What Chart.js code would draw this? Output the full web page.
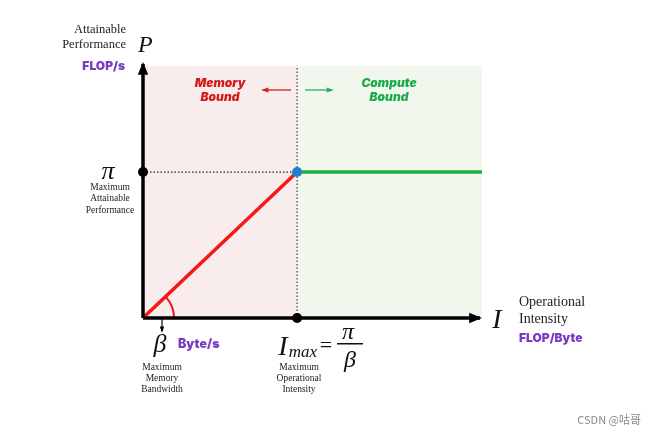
<!DOCTYPE html>
<html lang="en">
<head>
    <meta charset="UTF-8">
    <title>Roofline Model</title>
    <script src="https://cdn.jsdelivr.net/npm/chart.js"></script>
    <style>
        * { margin: 0; padding: 0; box-sizing: border-box; }
        body { background: #ffffff; width: 659px; height: 434px; overflow: hidden; }
    </style>
</head>
<body>
    <canvas id="roofline" width="659" height="434"></canvas>

    <script>
        // roofline data (arbitrary units)
        const memoryX = [0, 5];
        const memoryY = [0, 5.7];
        const computeX = [5, 11];
        const computeY = [5.7, 5.7];
        const ridge = [5, 5.7];
        const axisMax = [11, 10];
        const regionTop = 9.85;

        const toPts = (xs, ys) => xs.map((x, i) => ({ x: x, y: ys[i] }));

        const serif = '"Liberation Serif", "DejaVu Serif", serif';
        const bold = '"Inter", "Open Sans", sans-serif';
        const purple = '#7a3cc0';

        function text(ctx, s, x, y, font, color, align) {
            ctx.font = font;
            ctx.fillStyle = color;
            ctx.textAlign = align || 'center';
            ctx.textBaseline = 'middle';
            ctx.fillText(s, x, y);
        }

        function arrow(ctx, x1, y1, x2, y2, color, w, head) {
            ctx.strokeStyle = color;
            ctx.fillStyle = color;
            ctx.lineWidth = w;
            ctx.beginPath();
            ctx.moveTo(x1, y1);
            ctx.lineTo(x2, y2);
            ctx.stroke();
            const a = Math.atan2(y2 - y1, x2 - x1);
            ctx.beginPath();
            ctx.moveTo(x2 + Math.cos(a) * 2, y2 + Math.sin(a) * 2);
            ctx.lineTo(x2 - Math.cos(a - 0.45) * head, y2 - Math.sin(a - 0.45) * head);
            ctx.lineTo(x2 - Math.cos(a + 0.45) * head, y2 - Math.sin(a + 0.45) * head);
            ctx.closePath();
            ctx.fill();
        }

        // background regions behind the lines
        const regions = {
            id: 'regions',
            beforeDatasetsDraw(chart) {
                const ctx = chart.ctx, xs = chart.scales.x, ys = chart.scales.y;
                const x0 = xs.getPixelForValue(0), xr = xs.getPixelForValue(ridge[0]);
                const x1 = xs.getPixelForValue(axisMax[0]);
                const y0 = ys.getPixelForValue(0), yt = ys.getPixelForValue(regionTop);
                ctx.save();
                ctx.fillStyle = '#f9ecec';
                ctx.fillRect(x0, yt, xr - x0, y0 - yt);
                ctx.fillStyle = '#f2f7ee';
                ctx.fillRect(xr, yt, x1 - xr, y0 - yt);
                ctx.restore();
            }
        };

        // axes, arrows and labels
        const annotations = {
            id: 'annotations',
            afterDatasetsDraw(chart) {
                const ctx = chart.ctx, xs = chart.scales.x, ys = chart.scales.y;
                const x0 = xs.getPixelForValue(0), xr = xs.getPixelForValue(ridge[0]);
                const x1 = xs.getPixelForValue(axisMax[0]);
                const y0 = ys.getPixelForValue(0), yp = ys.getPixelForValue(ridge[1]);
                const y1 = ys.getPixelForValue(axisMax[1]);
                ctx.save();

                // angle arc at origin
                const ang = Math.atan2(y0 - yp, xr - x0);
                ctx.strokeStyle = '#ee1111';
                ctx.lineWidth = 2;
                ctx.beginPath();
                ctx.arc(x0, y0, 31, -ang, 0);
                ctx.stroke();

                // axes
                arrow(ctx, x0, y0, x0, y1 + 2, '#000', 3.5, 12);
                arrow(ctx, x0, y0, x1 - 2, y0, '#000', 3.5, 12);

                // axis dots
                [[x0, yp], [xr, y0]].forEach(p => {
                    ctx.fillStyle = '#000';
                    ctx.beginPath();
                    ctx.arc(p[0], p[1], 5, 0, Math.PI * 2);
                    ctx.fill();
                });

                // ridge point on top
                ctx.fillStyle = '#1e7fd0';
                ctx.beginPath();
                ctx.arc(xr, yp, 5, 0, Math.PI * 2);
                ctx.fill();

                // y axis label
                text(ctx, 'Attainable', 126, 30, '12.5px ' + serif, '#222', 'right');
                text(ctx, 'Performance', 126, 45, '12.5px ' + serif, '#222', 'right');
                text(ctx, 'P', 138, 46, 'italic 24px ' + serif, '#111', 'left');
                text(ctx, 'FLOP/s', 125, 66, '900 12px ' + bold, purple, 'right');

                // pi
                text(ctx, '\u03c0', 108, 172, 'italic 26px ' + serif, '#111');
                ['Maximum', 'Attainable', 'Performance'].forEach((s, i) =>
                    text(ctx, s, 110, 187 + i * 11.5, '9.5px ' + serif, '#222'));

                // region titles
                text(ctx, 'Memory', 220, 83, 'italic 900 12px ' + bold, '#d41a1a');
                text(ctx, 'Bound', 220, 97, 'italic 900 12px ' + bold, '#d41a1a');
                text(ctx, 'Compute', 389, 83, 'italic 900 12px ' + bold, '#1aab4a');
                text(ctx, 'Bound', 389, 97, 'italic 900 12px ' + bold, '#1aab4a');
                arrow(ctx, 291, 90, 263, 90, '#d42020', 1.3, 6);
                arrow(ctx, 305, 90, 332, 90, '#22b35a', 1.3, 6);

                // beta
                arrow(ctx, 162, y0, 162, 331, '#000', 1.2, 5);
                text(ctx, '\u03b2', 160, 345, 'italic 26px ' + serif, '#111');
                text(ctx, 'Byte/s', 178, 344, '900 12.5px ' + bold, purple, 'left');
                ['Maximum', 'Memory', 'Bandwidth'].forEach((s, i) =>
                    text(ctx, s, 162, 367 + i * 11, '9.5px ' + serif, '#222'));

                // I max = pi / beta
                text(ctx, 'I', 283, 348, 'italic 28px ' + serif, '#111');
                text(ctx, 'max', 303, 353, 'italic 17px ' + serif, '#111');
                text(ctx, '=', 326, 346, '22px ' + serif, '#111');
                text(ctx, '\u03c0', 348, 333, 'italic 24px ' + serif, '#111');
                ctx.fillStyle = '#111';
                ctx.fillRect(337, 343, 26, 1.5);
                text(ctx, '\u03b2', 350, 361, 'italic 24px ' + serif, '#111');
                ['Maximum', 'Operational', 'Intensity'].forEach((s, i) =>
                    text(ctx, s, 299, 367 + i * 11, '9.5px ' + serif, '#222'));

                // x axis label
                text(ctx, 'I', 497, 321, 'italic 28px ' + serif, '#111');
                text(ctx, 'Operational', 519, 302, '14px ' + serif, '#222', 'left');
                text(ctx, 'Intensity', 519, 319, '14px ' + serif, '#222', 'left');
                text(ctx, 'FLOP/Byte', 519, 338, '900 12px ' + bold, purple, 'left');

                text(ctx, 'CSDN @\u5495\u54e5', 641, 420, '11px "Noto Sans CJK SC", sans-serif', '#888', 'right');
                ctx.restore();
            }
        };

        const ctx = document.getElementById('roofline').getContext('2d');
        new Chart(ctx, {
            type: 'scatter',
            data: {
                datasets: [{
                    data: toPts([0, ridge[0]], [ridge[1], ridge[1]]),
                    showLine: true, borderColor: '#222', borderWidth: 1.2,
                    borderDash: [1.5, 2], pointRadius: 0, order: 4
                }, {
                    data: toPts([ridge[0], ridge[0]], [0, regionTop]),
                    showLine: true, borderColor: '#444', borderWidth: 1.2,
                    borderDash: [1.5, 2], pointRadius: 0, order: 3
                }, {
                    data: toPts(memoryX, memoryY),
                    showLine: true, borderColor: '#f51a1a', borderWidth: 3.5, pointRadius: 0, order: 2
                }, {
                    data: toPts(computeX, computeY),
                    showLine: true, borderColor: '#1bb03c', borderWidth: 3.5, pointRadius: 0, order: 1
                }]
            },
            options: {
                responsive: false,
                animation: false,
                layout: { padding: { left: 143, right: 177, top: 62, bottom: 116 } },
                plugins: { legend: { display: false }, tooltip: { enabled: false } },
                scales: {
                    x: { type: 'linear', min: 0, max: axisMax[0], display: false },
                    y: { type: 'linear', min: 0, max: axisMax[1], display: false }
                }
            },
            plugins: [regions, annotations]
        });
    </script>
</body>
</html>
